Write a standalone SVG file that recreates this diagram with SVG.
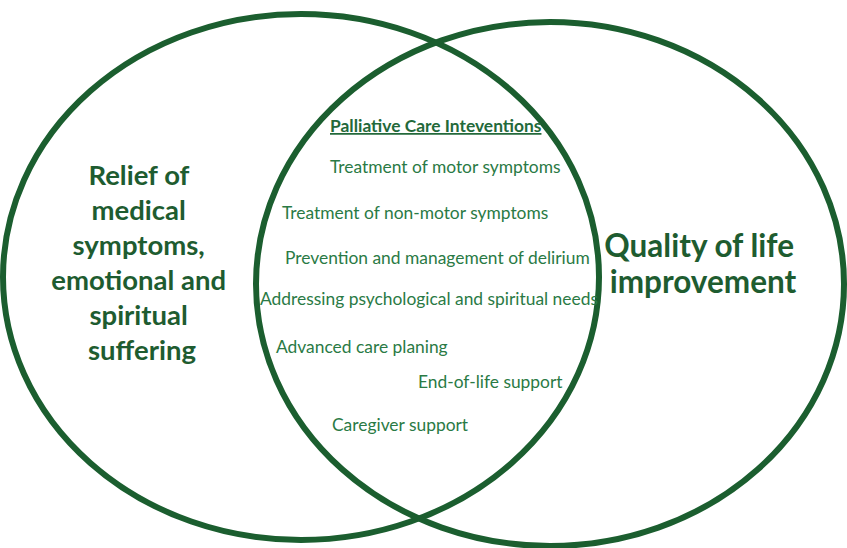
<svg xmlns="http://www.w3.org/2000/svg" width="847" height="548" viewBox="0 0 847 548">
  <style>
    .ring { fill: none; stroke: #1b5e2f; stroke-width: 6; }
    .head { font-family: Lato, "Open Sans", "Liberation Sans", sans-serif; font-weight: bold; font-size: 27.5px; fill: #1e5c30; text-anchor: middle; }
    .big { font-size: 31.5px; }
    .item { font-family: Lato, "Open Sans", "Liberation Sans", sans-serif; font-size: 17.4px; fill: #2a7a45; }
    .title { font-weight: bold; text-decoration: underline; fill: #23693a; }
  </style>
  <rect width="847" height="548" fill="#ffffff"/>
  <g id="left-set">
    <ellipse class="ring" cx="301" cy="277" rx="298" ry="263"/>
    <text class="head">
      <tspan x="142" y="185">Relief of</tspan>
      <tspan x="142" y="220">medical</tspan>
      <tspan x="142" y="255">symptoms,</tspan>
      <tspan x="142" y="290">emotional and</tspan>
      <tspan x="142" y="325">spiritual</tspan>
      <tspan x="142" y="360">suffering</tspan>
    </text>
  </g>
  <g id="right-set">
    <ellipse class="ring" cx="550" cy="284" rx="294" ry="262"/>
    <text class="head big">
      <tspan x="703" y="257">Quality of life</tspan>
      <tspan x="703" y="293">improvement</tspan>
    </text>
  </g>
  <g id="overlap">
    <text class="item title" x="330" y="132">Palliative Care Inteventions</text>
    <text class="item" x="330" y="173">Treatment of motor symptoms</text>
    <text class="item" x="282" y="219">Treatment of non-motor symptoms</text>
    <text class="item" x="285" y="264">Prevention and management of delirium</text>
    <text class="item" x="260" y="305">Addressing psychological and spiritual needs</text>
    <text class="item" x="276" y="353">Advanced care planing</text>
    <text class="item" x="418" y="388">End-of-life support</text>
    <text class="item" x="332" y="431">Caregiver support</text>
  </g>
</svg>
